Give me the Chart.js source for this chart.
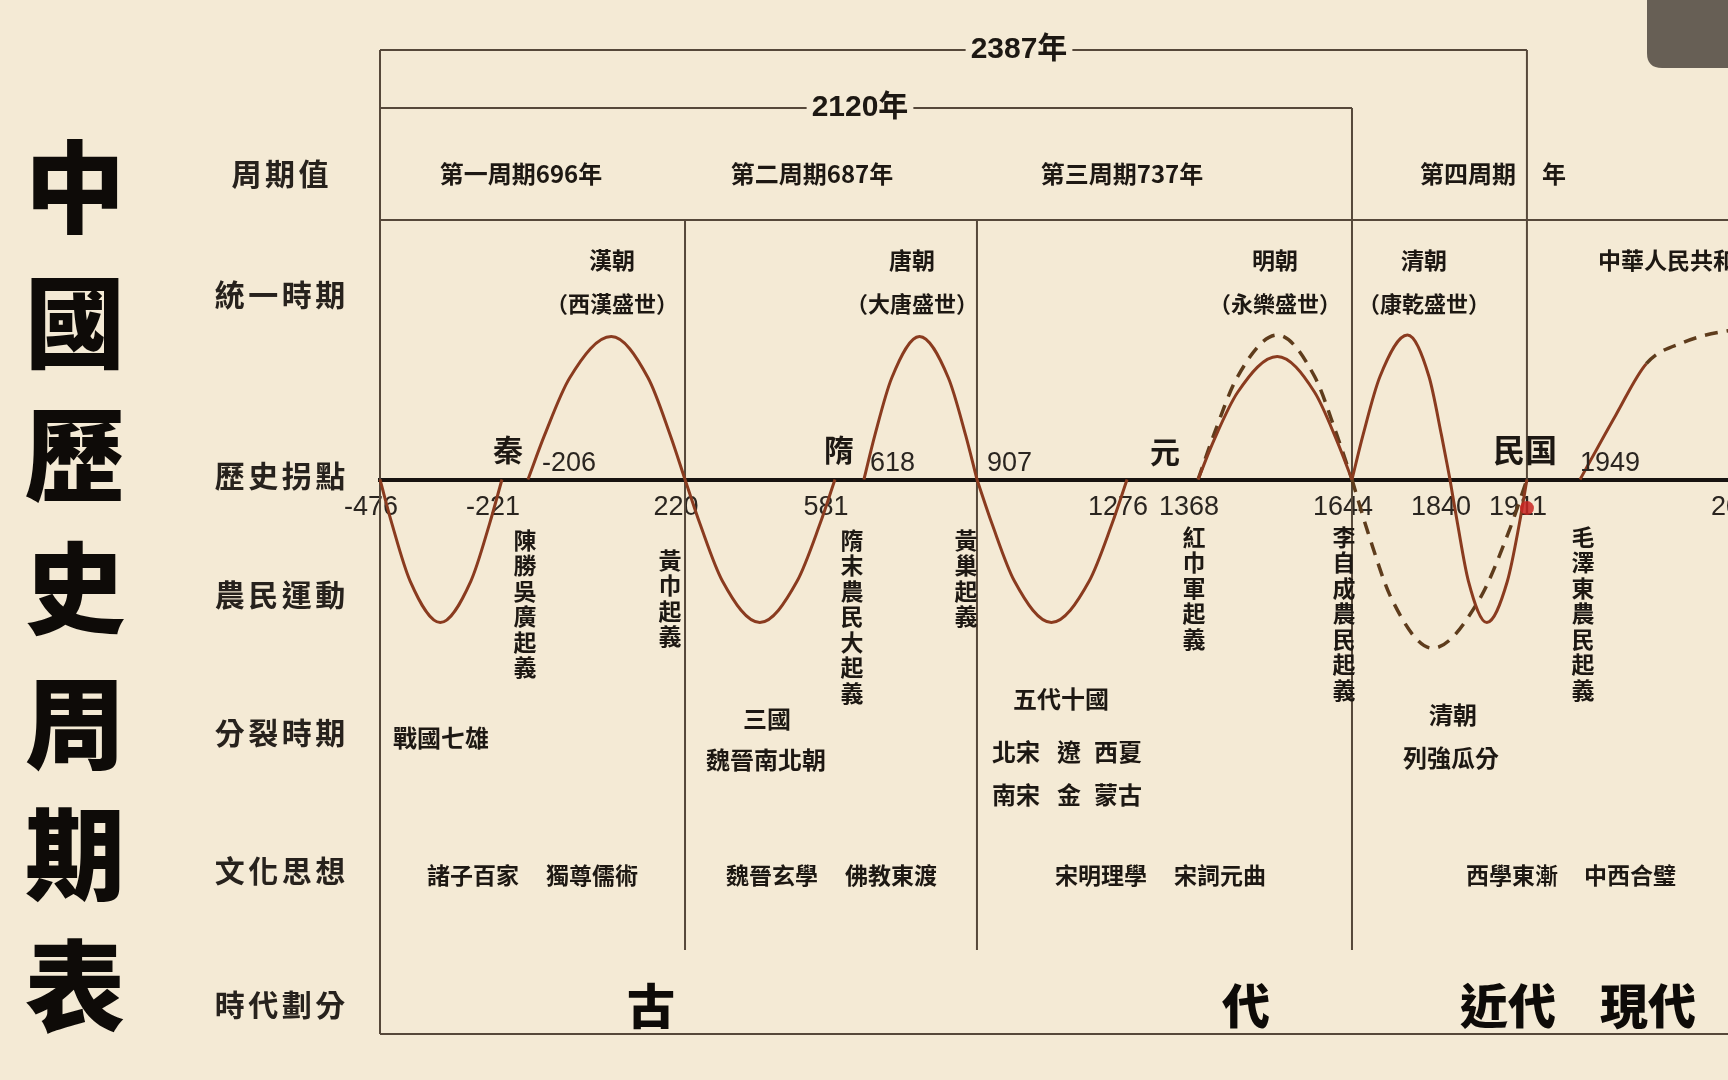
<!DOCTYPE html>
<html>
<head>
<meta charset="utf-8">
<script src="https://cdn.jsdelivr.net/npm/chart.js@4.4.1/dist/chart.umd.min.js"></script>
<style>
html,body{margin:0;padding:0;overflow:hidden;width:1728px;height:1080px;background:#f4ead5;}
#wrap{position:absolute;left:0;top:0;width:1800px;height:1080px;}
canvas{display:block;}
</style>
</head>
<body>
<div id="wrap"><canvas id="c" width="1800" height="1080"></canvas></div>
<script>
// ---------------- DATA ----------------
// x = year, y = rise (+) / decline (-) of the dynastic cycle (schematic units)
const warringStates = [[-476, 0], [-451, -31], [-413, -71], [-350, -100], [-286, -71], [-247, -31], [-221, 0]];
const westernHan    = [[-206, 0], [-161, 31], [-93, 71], [20, 100], [120, 71], [180, 31], [220, 0]];
const disunion1     = [[220, 0], [256, -31], [310, -71], [400, -100], [490, -71], [545, -31], [581, 0]];
const tang          = [[618, 0], [646, 31], [689, 71], [760, 100], [834, 71], [878, 31], [907, 0]];
const disunion2     = [[907, 0], [944, -31], [999, -71], [1090, -100], [1183, -71], [1239, -31], [1276, 0]];
const ming          = [[1368, 0], [1396, 27], [1439, 61], [1510, 86], [1577, 61], [1617, 27], [1644, 0]];
const mingIdeal     = [[1368, 0], [1396, 31], [1439, 72], [1510, 101], [1577, 72], [1617, 31], [1644, 0]];
const qing          = [[1644, 0], [1666, 31], [1700, 72], [1755, 101], [1798, 72], [1823, 31], [1840, 0]];
const lateQing      = [[1840, 0], [1847, -31], [1857, -71], [1874, -100], [1893, -71], [1904, -31], [1911, 0]];
const qingIdeal     = [[1644, 0], [1676, -37], [1724, -84], [1805, -118], [1867, -84], [1894, -37], [1911, 0]];
const prc           = [[1949, 0], [1970, 45], [1988, 81], [2010, 96], [2036, 104], [2060, 106]];
const redMark       = [[1911, -20]];

const belowYears  = [-476, -221, 220, 581, 1276, 1368, 1644, 1840, 1911, 2049];
const belowLabels = ['-476', '-221', '220', '581', '1276', '1368', '1644', '1840', '1911', '2049'];
const aboveYears  = [-206, 618, 907, 1949];
const aboveLabels = ['-206', '618', '907', '1949'];
const cycleBounds = [-476, 220, 907, 1644, 1911];
const spanLabels  = ['2387年', '2120年'];

const titleText   = '中國歷史周期表';
const rowLabels   = ['周期值', '統一時期', '歷史拐點', '農民運動', '分裂時期', '文化思想', '時代劃分'];
const cycleLabels = ['第一周期696年', '第二周期687年', '第三周期737年', '第四周期', '年'];
const unifyNames  = ['漢朝', '唐朝', '明朝', '清朝', '中華人民共和國'];
const unifySubs   = ['（西漢盛世）', '（大唐盛世）', '（永樂盛世）', '（康乾盛世）'];
const pivotNames  = ['秦', '隋', '元', '民国'];
const uprisings   = ['陳勝吳廣起義', '黃巾起義', '隋末農民大起義', '黃巢起義', '紅巾軍起義', '李自成農民起義', '毛澤東農民起義'];
const divisions   = ['戰國七雄', '三國', '魏晉南北朝', '五代十國', '北宋', '遼', '西夏', '南宋', '金', '蒙古', '清朝', '列強瓜分'];
const cultures    = ['諸子百家', '獨尊儒術', '魏晉玄學', '佛教東渡', '宋明理學', '宋詞元曲', '西學東漸', '中西合璧'];
const eras        = ['古', '代', '近代', '現代'];

// ---------------- SCALE CONFIG ----------------
// schematic time axis: year -> fraction of a fixed axis span
const AXIS_SPAN = 1420;
const SCALE_BREAKS = [[-476, 0], [-221, 0.0859], [-206, 0.1042], [220, 0.2148], [581, 0.3204],
  [618, 0.3408], [907, 0.4204], [1276, 0.5261], [1368, 0.5761], [1644, 0.6845],
  [1840, 0.7535], [1911, 0.8077], [1949, 0.8451], [2049, 0.9648]];

class TimelineScale extends Chart.LinearScale {
  static id = 'timeline';
  _dec(v) {
    const a = SCALE_BREAKS;
    let i = 1;
    while (i < a.length - 1 && v > a[i][0]) i++;
    const [y0, d0] = a[i - 1], [y1, d1] = a[i];
    return d0 + (v - y0) * (d1 - d0) / (y1 - y0);
  }
  getPixelForValue(v) {
    if (v === null || v === undefined || isNaN(v)) return NaN;
    return this.left + this._dec(v) * AXIS_SPAN;
  }
  getValueForPixel(p) {
    const d = (p - this.left) / AXIS_SPAN;
    const a = SCALE_BREAKS;
    let i = 1;
    while (i < a.length - 1 && d > a[i][1]) i++;
    const [y0, d0] = a[i - 1], [y1, d1] = a[i];
    return y0 + (d - d0) * (y1 - y0) / (d1 - d0);
  }
}
Chart.register(TimelineScale);

// ---------------- STYLE ----------------
const CURVE = '#8a3b1f';
const DASH = '#5e3c1c';
const INK = '#1d1813';
const LINE = '#56483a';
const CJK = "'Noto Sans CJK TC','Noto Sans CJK SC',sans-serif";
const NUM = "'Liberation Sans Narrow','Liberation Sans',Arial,sans-serif";

const pts = a => a.map(([x, y]) => ({ x, y }));
const solid = a => ({ data: pts(a), borderColor: CURVE, borderWidth: 3, clip: false, fill: false, pointRadius: 0 });
const dashed = a => ({ data: pts(a), borderColor: DASH, borderWidth: 3.5, borderDash: [13, 9], clip: false, fill: false, pointRadius: 0 });

const datasets = [
  solid(warringStates), solid(westernHan), solid(disunion1), solid(tang), solid(disunion2),
  solid(ming), solid(qing), solid(lateQing),
  dashed(mingIdeal), dashed(qingIdeal),
  Object.assign(solid(prc), {
    segment: {
      borderDash: c => c.p0DataIndex >= 2 ? [13, 9] : undefined,
      borderColor: c => c.p0DataIndex >= 2 ? DASH : CURVE,
      borderWidth: c => c.p0DataIndex >= 2 ? 3.5 : 3
    }
  })
];

function txt(ctx, s, x, y, size, opt = {}) {
  ctx.save();
  ctx.font = `${opt.weight || 700} ${size}px ${opt.family || CJK}`;
  ctx.fillStyle = opt.color || INK;
  ctx.textAlign = opt.align || 'center';
  ctx.textBaseline = 'middle';
  ctx.fillText(s, x, y);
  ctx.restore();
}
function spaced(ctx, s, cx, y, size, step, opt = {}) {
  const chars = [...s];
  const start = cx - (chars.length - 1) * step / 2;
  chars.forEach((c, i) => txt(ctx, c, start + i * step, y, size, opt));
}
function vertical(ctx, s, x, y0, size, step) {
  [...s].forEach((c, i) => txt(ctx, c, x, y0 + i * step, size));
}

const tablePlugin = {
  id: 'table',
  beforeDraw(chart) {
    const ctx = chart.ctx;
    ctx.save();
    ctx.fillStyle = '#f4ead5';
    ctx.fillRect(0, 0, chart.width, chart.height);
    ctx.restore();
  },
  beforeDatasetsDraw(chart) {
    const ctx = chart.ctx, X = v => chart.scales.x.getPixelForValue(v);
    ctx.save();
    ctx.strokeStyle = LINE;
    ctx.lineWidth = 2;
    const line = (x1, y1, x2, y2) => { ctx.beginPath(); ctx.moveTo(x1, y1); ctx.lineTo(x2, y2); ctx.stroke(); };
    const L = X(cycleBounds[0]), E = chart.width;
    line(L, 50, L, 1034);
    line(L, 1034, E, 1034);
    line(L, 220, E, 220);
    // 2387-year span
    ctx.font = `700 30px ${NUM}`;
    let w = ctx.measureText(spanLabels[0]).width;
    line(L, 50, 1019 - w / 2 - 5, 50);
    line(1019 + w / 2 + 5, 50, X(cycleBounds[4]), 50);
    line(X(cycleBounds[4]), 50, X(cycleBounds[4]), 482);
    // 2120-year span
    w = ctx.measureText(spanLabels[1]).width;
    line(L, 108, 860 - w / 2 - 5, 108);
    line(860 + w / 2 + 5, 108, X(cycleBounds[3]), 108);
    line(X(cycleBounds[3]), 108, X(cycleBounds[3]), 950);
    // cycle separators
    line(X(cycleBounds[1]), 220, X(cycleBounds[1]), 950);
    line(X(cycleBounds[2]), 220, X(cycleBounds[2]), 950);
    ctx.restore();
  },
  afterDatasetsDraw(chart) {
    const ctx = chart.ctx, xs = chart.scales.x, ys = chart.scales.y, X = v => xs.getPixelForValue(v);
    // red mark on 1911
    ctx.save();
    ctx.fillStyle = 'rgba(200,38,34,0.85)';
    redMark.forEach(([x, y]) => { ctx.beginPath(); ctx.arc(X(x), ys.getPixelForValue(y), 7, 0, Math.PI * 2); ctx.fill(); });
    ctx.restore();
    // title
    const ty = [187, 322, 455, 588, 723, 854, 986];
    [...titleText].forEach((c, i) => txt(ctx, c, 75, ty[i], 100, { weight: 900, color: '#0e0b08' }));
    // row labels
    const ry = [174, 295, 476, 595, 733, 871, 1005];
    rowLabels.forEach((s, i) => spaced(ctx, s, 280, ry[i], 30, 33.5, { color: '#27221d' }));
    // span labels
    txt(ctx, spanLabels[0], 1019, 50, 30, { family: NUM + ',' + CJK });
    txt(ctx, spanLabels[1], 860, 108, 30, { family: NUM + ',' + CJK });
    // cycle row
    txt(ctx, cycleLabels[0], 521, 174, 24);
    txt(ctx, cycleLabels[1], 812, 174, 24);
    txt(ctx, cycleLabels[2], 1122, 174, 24);
    txt(ctx, cycleLabels[3], 1516, 174, 24, { align: 'right' });
    txt(ctx, cycleLabels[4], 1542, 174, 24, { align: 'left' });
    // unification row
    const ux = [612, 912, 1275, 1424];
    ux.forEach((x, i) => { txt(ctx, unifyNames[i], x, 260, 23); txt(ctx, unifySubs[i], x, 304, 22); });
    txt(ctx, unifyNames[4], 1598, 260, 23, { align: 'left' });
    // turning points
    txt(ctx, pivotNames[0], 508, 450, 30);
    txt(ctx, pivotNames[1], 839, 450, 30);
    txt(ctx, pivotNames[2], 1165, 452, 30);
    txt(ctx, pivotNames[3], 1525, 450, 32);
    const aboveShift = [14, 6, 10, 0];
    aboveYears.forEach((y, i) => txt(ctx, aboveLabels[i], X(y) + aboveShift[i], 464, 27,
      { weight: 400, family: NUM, align: 'left', color: '#2a2520' }));
    // uprisings (vertical)
    const upX = [525, 670, 852, 966, 1194, 1344, 1583];
    const upY = [540, 560, 540, 540, 537, 537, 537];
    uprisings.forEach((s, i) => vertical(ctx, s, upX[i], upY[i], 23, 25.5));
    // divisions
    const dv = [[441, 738], [767, 719], [766, 760], [1061, 699], [1016, 752], [1069, 752], [1118, 752],
      [1016, 795], [1069, 795], [1118, 795], [1453, 715], [1451, 758]];
    divisions.forEach((s, i) => txt(ctx, s, dv[i][0], dv[i][1], 24));
    // cultures
    const cx = [473, 592, 772, 891, 1101, 1220, 1512, 1630];
    cultures.forEach((s, i) => txt(ctx, s, cx[i], 875, 23));
    // eras
    const ex = [651, 1246, 1508, 1648];
    eras.forEach((s, i) => txt(ctx, s, ex[i], 1006, 48, { weight: 900, color: '#0e0b08' }));
  },
  afterDraw(chart) {
    const ctx = chart.ctx;
    ctx.save();
    ctx.fillStyle = '#675f55';
    ctx.beginPath();
    ctx.moveTo(1647, 0);
    ctx.lineTo(1800, 0);
    ctx.lineTo(1800, 68);
    ctx.lineTo(1662, 68);
    ctx.quadraticCurveTo(1647, 68, 1647, 53);
    ctx.closePath();
    ctx.fill();
    ctx.restore();
  }
};

new Chart(document.getElementById('c'), {
  type: 'line',
  data: { datasets },
  options: {
    responsive: false,
    animation: false,
    events: [],
    layout: { padding: { left: 380, right: 0, top: 193.5, bottom: 560.5 } },
    plugins: { legend: { display: false }, tooltip: { enabled: false } },
    elements: {
      line: { cubicInterpolationMode: 'monotone', capBezierPoints: false },
      point: { radius: 0, hoverRadius: 0 }
    },
    scales: {
      x: {
        type: 'timeline',
        position: 'bottom',
        grid: { display: false, drawTicks: false },
        border: { display: true, color: '#171310', width: 4 },
        ticks: {
          autoSkip: false, maxRotation: 0, minRotation: 0, padding: 12, labelOffset: -9,
          color: '#2a2520', font: { family: NUM, size: 27 },
          callback: (v, i) => belowLabels[i]
        },
        afterBuildTicks: s => { s.ticks = belowYears.map(v => ({ value: v })); },
        afterFit: s => { s.height = 40; s.paddingLeft = 0; s.paddingRight = 0; }
      },
      y: { type: 'linear', display: false, min: 0, max: 200 }
    }
  },
  plugins: [tablePlugin]
});
</script>
</body>
</html>
